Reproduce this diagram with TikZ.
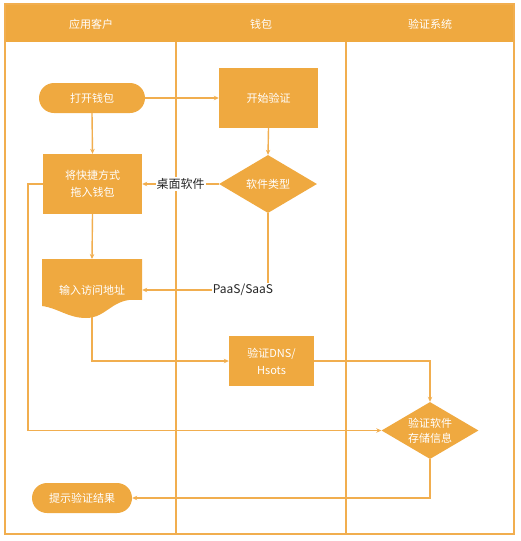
\documentclass[tikz,border=0pt]{standalone}
\usepackage{fontspec}
\setmainfont{Noto Sans CJK SC}
\usetikzlibrary{shapes.geometric,arrows.meta}
\definecolor{org}{HTML}{EFA940}
\definecolor{orgline}{HTML}{F1AE4F}
\definecolor{lbl}{HTML}{262626}
\tikzset{
  box/.style={fill=org,draw=none,text=white,font=\fontsize{11}{17}\selectfont,align=center,inner sep=0pt},
  term/.style={box,rounded corners=15pt,minimum height=30pt},
  proc/.style={box,rectangle},
  dec/.style={box,diamond,aspect=1.7},
  conn/.style={draw=orgline,line width=1.4pt,-{Stealth[length=5pt,width=4.5pt]}},
  lab/.style={fill=white,text=lbl,font=\fontsize{12}{14}\selectfont,inner sep=1pt},
  head/.style={text=white,font=\fontsize{11}{14}\selectfont}
}
\begin{document}
\begin{tikzpicture}[x=1pt,y=-1pt]
\useasboundingbox (0,0) rectangle (521,541);
% frame
\fill[org] (5,4) rectangle (514,42);
\draw[orgline,line width=1.8pt] (5,4) rectangle (514,534);
\draw[orgline,line width=1.8pt] (176,42) -- (176,534);
\draw[orgline,line width=1.8pt] (346,42) -- (346,534);
\node[head] (h1) at (91,24) {应用客户};
\node[head] (h2) at (261,24) {钱包};
\node[head] (h3) at (430,24) {验证系统};
% nodes
\node[term,minimum width=106pt] (open) at (92,98) {打开钱包};
\node[proc,minimum width=99pt,minimum height=60pt] (start) at (268.5,98) {开始验证};
\node[proc,minimum width=99pt,minimum height=60pt] (drag) at (92.5,184) {将快捷方式\\拖入钱包};
\node[dec,minimum width=98pt,minimum height=58pt] (type) at (268,184) {软件类型};
\fill[org] (42,259) -- (142,259) -- (142,300)
  .. controls (112,296) and (108,318) .. (86,318)
  .. controls (68,318) and (58,308) .. (42,306) -- cycle;
\node[box,minimum width=100pt,minimum height=20pt] (input) at (92,290) {输入访问地址};
\coordinate (intop) at (92,259);
\coordinate (inbot) at (92,317);
\node[proc,minimum width=85pt,minimum height=50pt] (dns) at (271.5,361) {验证DNS/\\Hsots};
\node[dec,minimum width=97pt,minimum height=57pt,font=\fontsize{11}{15}\selectfont] (val) at (430,430.5) {验证软件\\存储信息};
\node[term,minimum width=100pt] (res) at (82,498) {提示验证结果};
\coordinate (lft) at (28,184);
% connectors
\draw[conn] (open.east) -- (start.west);
\draw[conn] (open.south) -- (drag.north);
\draw[conn] (start.south) -- (type.north);
\draw[conn] (drag.south) -- (intop);
\draw[conn] (type.west) -- (drag.east) node[lab,midway] (l1) {桌面软件};
\draw[conn] (type.south) |- (input.east);
\node[lab] (l2) at (243,290) {PaaS/SaaS};
\draw[conn] (inbot) |- (dns.west);
\draw[conn] (dns.east) -| (val.north);
\draw[conn] (drag.west) -- (lft) |- (val.west);
\draw[conn] (val.south) |- (res.east);
\end{tikzpicture}
\end{document}
